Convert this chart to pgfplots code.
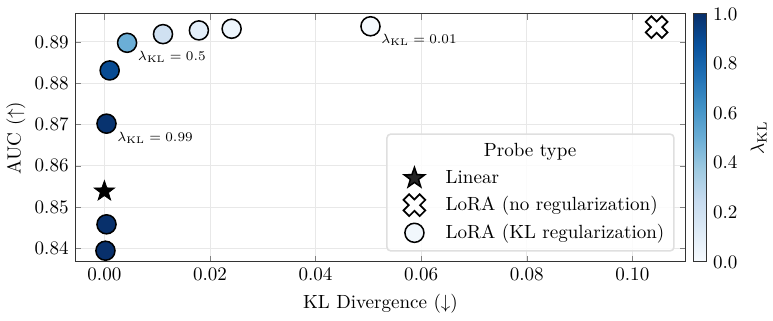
\documentclass[border=0pt]{standalone}
\usepackage{pgfplots}
\pgfplotsset{compat=1.18}
\usetikzlibrary{plotmarks}

% filled five-point star
\pgfdeclareplotmark{fstar}{%
  \pgfpathmoveto{\pgfpointpolar{90}{\pgfplotmarksize}}%
  \pgfpathlineto{\pgfpointpolar{126}{0.4\pgfplotmarksize}}%
  \pgfpathlineto{\pgfpointpolar{162}{\pgfplotmarksize}}%
  \pgfpathlineto{\pgfpointpolar{198}{0.4\pgfplotmarksize}}%
  \pgfpathlineto{\pgfpointpolar{234}{\pgfplotmarksize}}%
  \pgfpathlineto{\pgfpointpolar{270}{0.4\pgfplotmarksize}}%
  \pgfpathlineto{\pgfpointpolar{306}{\pgfplotmarksize}}%
  \pgfpathlineto{\pgfpointpolar{342}{0.4\pgfplotmarksize}}%
  \pgfpathlineto{\pgfpointpolar{18}{\pgfplotmarksize}}%
  \pgfpathlineto{\pgfpointpolar{54}{0.4\pgfplotmarksize}}%
  \pgfpathclose
  \pgfusepathqfillstroke}

% filled fat X
\pgfdeclareplotmark{fatx}{%
  \pgftransformrotate{45}%
  \pgfpathmoveto{\pgfpoint{0.35\pgfplotmarksize}{\pgfplotmarksize}}%
  \pgfpathlineto{\pgfpoint{0.35\pgfplotmarksize}{0.35\pgfplotmarksize}}%
  \pgfpathlineto{\pgfpoint{\pgfplotmarksize}{0.35\pgfplotmarksize}}%
  \pgfpathlineto{\pgfpoint{\pgfplotmarksize}{-0.35\pgfplotmarksize}}%
  \pgfpathlineto{\pgfpoint{0.35\pgfplotmarksize}{-0.35\pgfplotmarksize}}%
  \pgfpathlineto{\pgfpoint{0.35\pgfplotmarksize}{-\pgfplotmarksize}}%
  \pgfpathlineto{\pgfpoint{-0.35\pgfplotmarksize}{-\pgfplotmarksize}}%
  \pgfpathlineto{\pgfpoint{-0.35\pgfplotmarksize}{-0.35\pgfplotmarksize}}%
  \pgfpathlineto{\pgfpoint{-\pgfplotmarksize}{-0.35\pgfplotmarksize}}%
  \pgfpathlineto{\pgfpoint{-\pgfplotmarksize}{0.35\pgfplotmarksize}}%
  \pgfpathlineto{\pgfpoint{-0.35\pgfplotmarksize}{0.35\pgfplotmarksize}}%
  \pgfpathlineto{\pgfpoint{-0.35\pgfplotmarksize}{\pgfplotmarksize}}%
  \pgfpathclose
  \pgfusepathqfillstroke}

\pgfplotsset{
  lgmark/.style={legend image code/.code={%
    \path (0pt,0pt) (25pt,0pt);
    \draw[##1] plot coordinates {(11pt,0pt)};}},
}

\pgfplotstableread{
x       y       lam
0.0002  0.8394  1.0
0.0004  0.8458  1.0
0.0004  0.8702  0.99
0.0010  0.8831  0.9
0.0043  0.8898  0.5
0.0111  0.8919  0.2
0.0179  0.8928  0.1
0.0241  0.8932  0.05
0.0504  0.8938  0.01
}\klruns

\begin{document}
\begin{tikzpicture}
\begin{axis}[
    name=main,
    scale only axis,
    width=320pt, height=130pt,
    xmin=-0.0055, xmax=0.1101,
    ymin=0.8367, ymax=0.8968,
    xtick={0,0.02,0.04,0.06,0.08,0.1},
    ytick={0.84,0.85,0.86,0.87,0.88,0.89},
    scaled x ticks=false, scaled y ticks=false,
    xticklabel style={/pgf/number format/fixed,/pgf/number format/fixed zerofill,/pgf/number format/precision=2},
    yticklabel style={/pgf/number format/fixed,/pgf/number format/fixed zerofill,/pgf/number format/precision=2},
    tick align=inside,
    major tick length=3pt,
    grid=major,
    grid style={gray!18, line width=0.5pt},
    axis line style={line width=0.6pt, black!80},
    xlabel={KL Divergence ($\downarrow$)},
    ylabel={AUC ($\uparrow$)},
    ylabel style={yshift=-2pt},
    colormap={blues}{rgb255=(247,251,255) rgb255=(222,235,247) rgb255=(198,219,239)
      rgb255=(158,202,225) rgb255=(107,174,214) rgb255=(66,146,198)
      rgb255=(33,113,181) rgb255=(8,81,156) rgb255=(8,48,107)},
    point meta min=0, point meta max=1,
    colorbar,
    colorbar style={
      at={(parent axis.north east)}, anchor=north west, xshift=-4.5pt,
      width=6.8pt,
      ytick={0,0.2,0.4,0.6,0.8,1},
      yticklabel style={/pgf/number format/fixed,/pgf/number format/fixed zerofill,/pgf/number format/precision=1},
      major tick length=0pt,
      axis line style={line width=0.6pt, black!80},
      ylabel={$\lambda_{\mathrm{KL}}$},
    },
    legend cell align=left,
    legend style={
      at={(0.982,0.041)}, anchor=south east,
      draw=gray!25, line width=0.8pt, rounded corners=2pt,
      fill=white, fill opacity=0.85, text opacity=1,
      row sep=1.5pt, inner sep=3pt,
    },
]
\addplot[scatter, only marks, mark=*, mark size=5pt,
  scatter src=explicit,
  scatter/use mapped color={draw=black, fill=mapped color},
  mark options={line width=0.8pt}, forget plot]
  table[x=x, y=y, meta=lam] {\klruns};
\addplot[only marks, mark=fstar, mark size=5.6pt, draw=black, fill=black, forget plot]
  coordinates {(0,0.8538)};
\addplot[only marks, mark=fatx, mark size=6pt, draw=black, fill=white,
  mark options={line width=0.9pt}, forget plot]
  coordinates {(0.1046,0.8936)};

\addlegendimage{empty legend}
\addlegendentry{\hspace*{20pt}Probe type}
\addlegendimage{lgmark, only marks, mark=fstar, mark size=5.6pt, draw=black, fill=black}
\addlegendentry{Linear}
\addlegendimage{lgmark, only marks, mark=fatx, mark size=6pt, draw=black, fill=white, mark options={line width=0.9pt}}
\addlegendentry{LoRA (no regularization)}
\addlegendimage{lgmark, only marks, mark=*, mark size=5pt, draw=black, fill={rgb,255:red,240;green,246;blue,252}, mark options={line width=0.8pt}}
\addlegendentry{LoRA (KL regularization)}

\node[anchor=west, inner sep=0pt, font=\scriptsize, shift={(5.5pt,-7.3pt)}]
  at (axis cs:0.0043,0.8898) {$\lambda_{\mathrm{KL}}=0.5$};
\node[anchor=west, inner sep=0pt, font=\scriptsize, shift={(5.5pt,-7.3pt)}]
  at (axis cs:0.0004,0.8702) {$\lambda_{\mathrm{KL}}=0.99$};
\node[anchor=west, inner sep=0pt, font=\scriptsize, shift={(5.5pt,-7.3pt)}]
  at (axis cs:0.0504,0.8938) {$\lambda_{\mathrm{KL}}=0.01$};
\end{axis}
\path (main.south west) ++(-39pt,-30.7pt) rectangle ++(402pt,168pt);
\end{tikzpicture}
\end{document}
